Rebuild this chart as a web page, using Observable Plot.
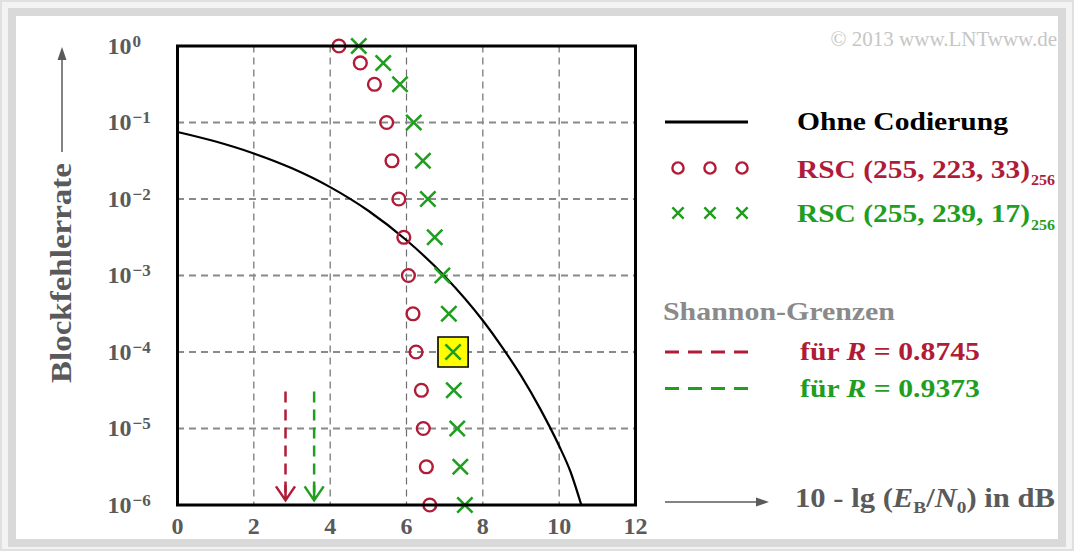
<!DOCTYPE html>
<html><head><meta charset="utf-8">
<script src="https://cdn.jsdelivr.net/npm/d3@7"></script>
<script src="https://cdn.jsdelivr.net/npm/@observablehq/plot@0.6"></script>
<style>body{margin:0;background:#fff} #chart svg{display:block}</style>
</head><body><div id="chart"></div>
<script>
// ---- data ----
const xTicks = [0, 2, 4, 6, 8, 10, 12];
const yTicks = [1, 1e-1, 1e-2, 1e-3, 1e-4, 1e-5, 1e-6];

// uncoded transmission (Ohne Codierung)
const uncodedX = [0, 1, 2, 3, 4, 5, 6, 7, 8, 8.5, 9, 9.5, 10, 10.3, 10.58];
const uncodedY = [0.0752, 0.0564, 0.0394, 0.0252, 0.0143, 0.00702, 0.00289, 0.00098, 0.000258, 0.000117, 0.000049, 0.0000182, 0.0000059, 0.0000027, 0.000001];

// RSC (255,223,33)_256
const rscAX = [4.23, 4.79, 5.16, 5.48, 5.62, 5.80, 5.93, 6.05, 6.17, 6.25, 6.39, 6.44, 6.52, 6.61];
const rscAY = [1, 0.6, 0.316, 0.1, 0.0316, 0.01, 0.00316, 0.001, 0.000316, 0.0001, 0.0000316, 0.00001, 0.00000316, 0.000001];
// RSC (255,239,17)_256
const rscBX = [4.75, 5.39, 5.83, 6.19, 6.43, 6.56, 6.74, 6.94, 7.11, 7.22, 7.24, 7.33, 7.41, 7.53];
const rscBY = [1, 0.6, 0.316, 0.1, 0.0316, 0.01, 0.00316, 0.001, 0.000316, 0.0001, 0.0000316, 0.00001, 0.00000316, 0.000001];
const highlightIndex = 9;

// Shannon limits
const shannonR = [0.8745, 0.9373];
const shannonX = [2.83, 3.58];
const shannonTop = 3e-5;
const shannonTip = 1.15e-6;

const RED = "#b01c38", GREEN = "#1f9e1f", GRAY = "#5a5a5a";

const uncoded = uncodedX.map((x, i) => ({x, y: uncodedY[i]}));
const rscA = rscAX.map((x, i) => ({x, y: rscAY[i]}));
const rscB = rscBX.map((x, i) => ({x, y: rscBY[i]}));
const highlight = [rscB[highlightIndex]];
const shannon = shannonX.map((x, i) => ({x, R: shannonR[i], color: i === 0 ? RED : GREEN}));

const chevron = {draw(ctx, size) {
  const s = Math.sqrt(size / Math.PI);
  ctx.moveTo(-s * 0.68, -s); ctx.lineTo(0, 0); ctx.lineTo(s * 0.68, -s);
  ctx.moveTo(0, -s * 1.1); ctx.lineTo(0, 0);
}};

const W = 1074, H = 551;
const plot = Plot.plot({
  width: W, height: H,
  marginLeft: 177, marginRight: 439, marginTop: 45.5, marginBottom: 46.5,
  x: {domain: [0, 12]},
  y: {type: "log", domain: [1e-6, 1]},
  style: {fontFamily: "'Liberation Serif', serif", fontSize: "24px", fontWeight: "bold", color: GRAY, background: "white", overflow: "visible"},
  marks: [
    Plot.gridX(xTicks, {stroke: "#6e6e6e", strokeOpacity: 1, strokeWidth: 1.2, strokeDasharray: "7,5"}),
    Plot.gridY(yTicks, {stroke: "#8a8a8a", strokeOpacity: 1, strokeWidth: 1.8, strokeDasharray: "7,5"}),
    Plot.line(uncoded, {x: "x", y: "y", stroke: "black", strokeWidth: 2.2, curve: "monotone-x"}),
    Plot.dot(highlight, {x: "x", y: "y", symbol: "square", r: 17, fill: "#ffff00", stroke: "black", strokeWidth: 1.6}),
    Plot.dot(rscA, {x: "x", y: "y", r: 6.4, stroke: RED, strokeWidth: 2.4, fill: "none"}),
    Plot.dot(rscB, {x: "x", y: "y", symbol: "times", r: 7, stroke: GREEN, strokeWidth: 2.6}),
    Plot.ruleX(shannon, {x: "x", y1: shannonTop, y2: shannonTip, stroke: "color", strokeWidth: 2.5, strokeDasharray: "11,7"}),
    Plot.dot(shannon, {x: "x", y: () => shannonTip, symbol: chevron, r: 14, stroke: "color", strokeWidth: 2.5, fill: "none"}),
    Plot.frame({stroke: "black", strokeWidth: 3}),
    Plot.axisX(xTicks, {tickSize: 0, tickPadding: 12, label: null}),
    Plot.axisY(yTicks, {tickSize: 0, tickPadding: 0, textAnchor: "start", dx: -70, label: null,
      tickFormat: d => "10^" + Math.round(Math.log10(d))})
  ]
});
document.getElementById("chart").appendChild(plot);

const svg = d3.select(plot);

// superscripts on y tick labels
svg.selectAll('g[aria-label="y-axis tick label"] text').each(function() {
  const t = d3.select(this);
  const s = t.text();
  if (!s.includes("^")) return;
  const e = s.split("^")[1].replace("-", "\u2212");
  t.text("10");
  t.append("tspan").attr("dy", "-0.42em").attr("dx", "1").attr("font-size", "17px").text(e);
});

// background frame (behind everything)
const bg = svg.insert("g", ":first-child");
bg.append("rect").attr("x", 1).attr("y", 1).attr("width", W - 2).attr("height", H - 2)
  .attr("fill", "#f3f3f3").attr("stroke", "#e0e0e0").attr("stroke-width", 2);
bg.append("rect").attr("x", 8).attr("y", 8).attr("width", W - 16).attr("height", H - 12).attr("fill", "#d9d9d9");
bg.append("rect").attr("x", 16).attr("y", 16).attr("width", W - 32).attr("height", H - 28).attr("fill", "white");

const deco = svg.append("g").attr("font-family", "'Liberation Serif', serif").attr("font-weight", "bold")
  .attr("text-anchor", "start");

function txt(x, y, size, fill, len) {
  const t = deco.append("text").attr("x", x).attr("y", y).attr("font-size", size).attr("fill", fill)
    .attr("text-anchor", "start");
  if (len) t.attr("textLength", len).attr("lengthAdjust", "spacingAndGlyphs");
  return t;
}

// copyright
txt(1057, 46, 21, "#c6c6c6").attr("font-weight", "normal").attr("text-anchor", "end").text("\u00a9 2013 www.LNTwww.de");

// legend row 1
deco.append("line").attr("x1", 665).attr("x2", 748).attr("y1", 122).attr("y2", 122).attr("stroke", "black").attr("stroke-width", 3);
txt(797, 130, 26, "black", 211).text("Ohne Codierung");

// legend row 2
[678, 710, 742].forEach(cx => deco.append("circle").attr("cx", cx).attr("cy", 168).attr("r", 5.6)
  .attr("fill", "none").attr("stroke", RED).attr("stroke-width", 2.4));
txt(797, 178, 26, RED, 233).text("RSC (255, 223, 33)");
txt(1031, 185, 15, RED, 24).text("256");

// legend row 3
[678, 710, 742].forEach(cx => {
  const s = 5.6;
  deco.append("path").attr("d", `M${cx - s},${213 - s}L${cx + s},${213 + s}M${cx - s},${213 + s}L${cx + s},${213 - s}`)
    .attr("stroke", GREEN).attr("stroke-width", 2.5).attr("fill", "none");
});
txt(797, 222, 26, GREEN, 233).text("RSC (255, 239, 17)");
txt(1031, 230, 15, GREEN, 24).text("256");

// Shannon legend
txt(663, 320, 26, "#8a8a8a", 232).text("Shannon-Grenzen");
shannon.forEach((d, i) => {
  const y = i === 0 ? 352 : 388.5;
  deco.append("line").attr("x1", 665).attr("x2", 748).attr("y1", y).attr("y2", y)
    .attr("stroke", d.color).attr("stroke-width", 3).attr("stroke-dasharray", "14,9");
  const t = txt(800, y + 8, 26, d.color, 180);
  t.append("tspan").text("f\u00fcr ");
  t.append("tspan").attr("font-style", "italic").text("R");
  t.append("tspan").text(" = " + d.R.toFixed(4));
});

// x-axis label with arrow
deco.append("line").attr("x1", 665).attr("x2", 757).attr("y1", 502).attr("y2", 502).attr("stroke", GRAY).attr("stroke-width", 1.5);
deco.append("path").attr("d", "M756,497.5L769,502L756,506.5Z").attr("fill", GRAY);
{
  const t = txt(795, 507, 27, GRAY, 260);
  t.append("tspan").text("10 - lg (");
  t.append("tspan").attr("font-style", "italic").text("E");
  t.append("tspan").attr("font-size", 17).attr("dy", 6).text("B");
  t.append("tspan").attr("dy", -6).text("/");
  t.append("tspan").attr("font-style", "italic").text("N");
  t.append("tspan").attr("font-size", 17).attr("dy", 6).text("0");
  t.append("tspan").attr("dy", -6).text(") in dB");
}

// y-axis label with arrow
deco.append("line").attr("x1", 62).attr("x2", 62).attr("y1", 152).attr("y2", 58).attr("stroke", GRAY).attr("stroke-width", 1.5);
deco.append("path").attr("d", "M57.5,60L62,47L66.5,60Z").attr("fill", GRAY);
deco.append("text").attr("transform", "translate(71,273) rotate(-90)").attr("text-anchor", "middle")
  .attr("font-size", 30).attr("fill", GRAY).attr("textLength", 220).attr("lengthAdjust", "spacingAndGlyphs")
  .text("Blockfehlerrate");
</script>
</body></html>
